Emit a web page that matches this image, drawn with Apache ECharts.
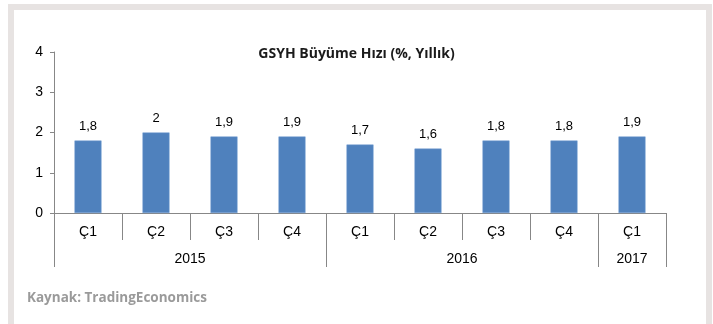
<!DOCTYPE html>
<html>
<head>
<meta charset="utf-8">
<script src="https://cdn.jsdelivr.net/npm/echarts@6/dist/echarts.min.js"></script>
<style>
  html, body { margin: 0; padding: 0; background: #ffffff; }
  #frame { position: absolute; left: 8px; top: 4px; width: 704px; height: 330px;
           border: 6px solid #e7e3e2; border-bottom: none; box-sizing: border-box; }
  #chart { position: absolute; left: 0; top: 0; width: 713px; height: 324px; }
</style>
</head>
<body>
<div id="frame"></div>
<div id="chart"></div>
<script>
// Quarterly GDP growth, year-on-year (%)
const quarters = ['Ç1', 'Ç2', 'Ç3', 'Ç4', 'Ç1', 'Ç2', 'Ç3', 'Ç4', 'Ç1'];
const growth = [1.8, 2, 1.9, 1.9, 1.7, 1.6, 1.8, 1.8, 1.9];
const years = ['2015', '2016', '2017'];
const quartersPerYear = [4, 4, 1];
const yTicks = [0, 1, 2, 3, 4];

// Year group boundaries and centres in category units
const yearEdges = [0];
quartersPerYear.forEach(n => yearEdges.push(yearEdges[yearEdges.length - 1] + n));
const yearCentres = years.map((_, i) => (yearEdges[i] + yearEdges[i + 1]) / 2);

const axisGray = '#878787';
const chart = echarts.init(document.getElementById('chart'), null, { renderer: 'canvas' });

chart.setOption({
  animation: false,
  backgroundColor: 'transparent',
  title: [
    {
      text: 'GSYH Büyüme Hızı (%, Yıllık)',
      left: 'center', top: 47, padding: 0,
      textStyle: { fontFamily: 'Open Sans', fontWeight: 'bold', fontSize: 14, color: '#1a1a1a' }
    },
    {
      text: 'Kaynak: TradingEconomics',
      left: 27, top: 291, padding: 0,
      textStyle: { fontFamily: 'Open Sans', fontWeight: 'bold', fontSize: 13.5, color: '#9a9a9a' }
    }
  ],
  grid: { left: 54, right: 47, top: 52, bottom: 111, containLabel: false },
  xAxis: [
    {
      type: 'category',
      data: quarters,
      boundaryGap: true,
      axisLine: { show: true, lineStyle: { color: axisGray, width: 1 } },
      axisTick: { show: true, length: 27, alignWithLabel: false, lineStyle: { color: axisGray } },
      axisLabel: { margin: 12, fontFamily: 'Liberation Sans', fontSize: 14, color: '#000' },
      splitLine: { show: false }
    },
    {
      type: 'value',
      position: 'bottom',
      min: 0,
      max: yearEdges[yearEdges.length - 1],
      axisLine: { show: false },
      axisTick: { show: true, length: 54, customValues: yearEdges, lineStyle: { color: axisGray } },
      axisLabel: {
        margin: 39,
        customValues: yearCentres,
        formatter: v => years[yearCentres.indexOf(v)] || '',
        fontFamily: 'Liberation Sans', fontSize: 14, color: '#000'
      },
      splitLine: { show: false }
    }
  ],
  yAxis: {
    type: 'value',
    min: yTicks[0],
    max: yTicks[yTicks.length - 1],
    interval: 1,
    axisLine: { show: true, lineStyle: { color: axisGray } },
    axisTick: { show: true, length: 4, lineStyle: { color: axisGray } },
    axisLabel: { margin: 11, fontFamily: 'Liberation Sans', fontSize: 14, color: '#000' },
    splitLine: { show: false }
  },
  series: [
    {
      type: 'bar',
      xAxisIndex: 0,
      data: growth,
      barWidth: 27,
      itemStyle: { color: '#4f81bd', borderColor: '#6f9bd0', borderWidth: 0.5 },
      label: {
        show: true,
        position: 'top',
        distance: 8,
        fontFamily: 'Liberation Sans',
        fontSize: 13,
        color: '#000',
        formatter: p => String(p.value).replace('.', ',')
      }
    }
  ]
});
</script>
</body>
</html>
